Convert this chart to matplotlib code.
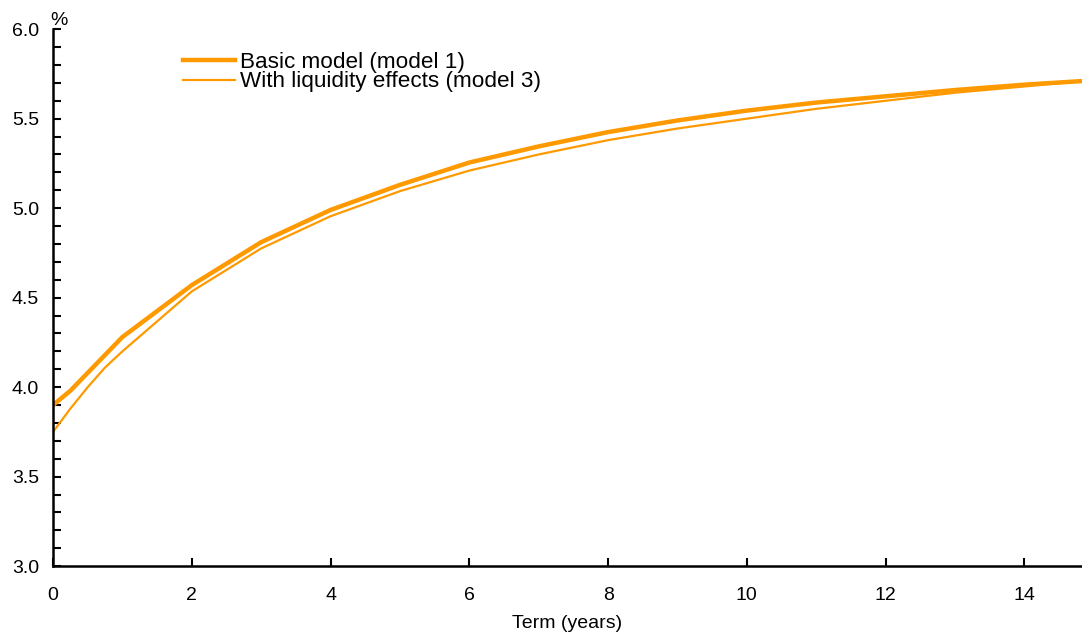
import numpy as np
import matplotlib.pyplot as plt
from matplotlib.ticker import MultipleLocator

plt.rcParams['font.family'] = ['Liberation Sans', 'DejaVu Sans']

# term in years and yields (%)
term = [0, 0.25, 0.5, 0.75, 1, 2, 3, 4, 5, 6, 7, 8, 9, 10, 11, 12, 13, 14, 14.83]
model1 = [3.90, 3.98, 4.08, 4.18, 4.28, 4.57, 4.81, 4.99, 5.13, 5.255, 5.345, 5.425,
          5.49, 5.545, 5.59, 5.625, 5.66, 5.69, 5.71]
model3 = [3.75, 3.88, 4.00, 4.11, 4.20, 4.535, 4.775, 4.955, 5.095, 5.21, 5.30, 5.38,
          5.445, 5.50, 5.555, 5.60, 5.645, 5.68, 5.71]
labels = ['Basic model (model 1)', 'With liquidity effects (model 3)']
col = '#FF9900'

fig = plt.figure(figsize=(10.82, 6.34), dpi=100)
ax = fig.add_axes([0.049, 0.107, 0.951, 0.847])

ax.plot(term, model1, color=col, lw=3.2, label=labels[0])
ax.plot(term, model3, color=col, lw=1.6, label=labels[1])

ax.set_xlim(0, 14.83)
ax.set_ylim(3.0, 6.0)
ax.xaxis.set_major_locator(MultipleLocator(2))
ax.yaxis.set_major_locator(MultipleLocator(0.5))
ax.yaxis.set_minor_locator(MultipleLocator(0.1))
ax.yaxis.set_major_formatter(plt.FormatStrFormatter('%.1f'))
ax.tick_params(direction='in', length=6, width=1.5, labelsize=14, pad=10)
ax.tick_params(axis='y', which='minor', direction='in', length=6, width=1.5)
ax.tick_params(axis='x', pad=15)
for s in ['top', 'right']:
    ax.spines[s].set_visible(False)
for s in ['left', 'bottom']:
    ax.spines[s].set_linewidth(1.8)

ax.set_xlabel('Term (years)', fontsize=14, labelpad=8)
ax.text(-0.003, 1.0, '%', transform=ax.transAxes, fontsize=14, ha='left', va='bottom')

ax.legend(loc='upper left', bbox_to_anchor=(0.118, 0.975), frameon=False, fontsize=16.2,
          handlelength=2.3, handletextpad=0.2, labelspacing=-0.05, borderaxespad=0)

fig.savefig('out.png', dpi=100)
